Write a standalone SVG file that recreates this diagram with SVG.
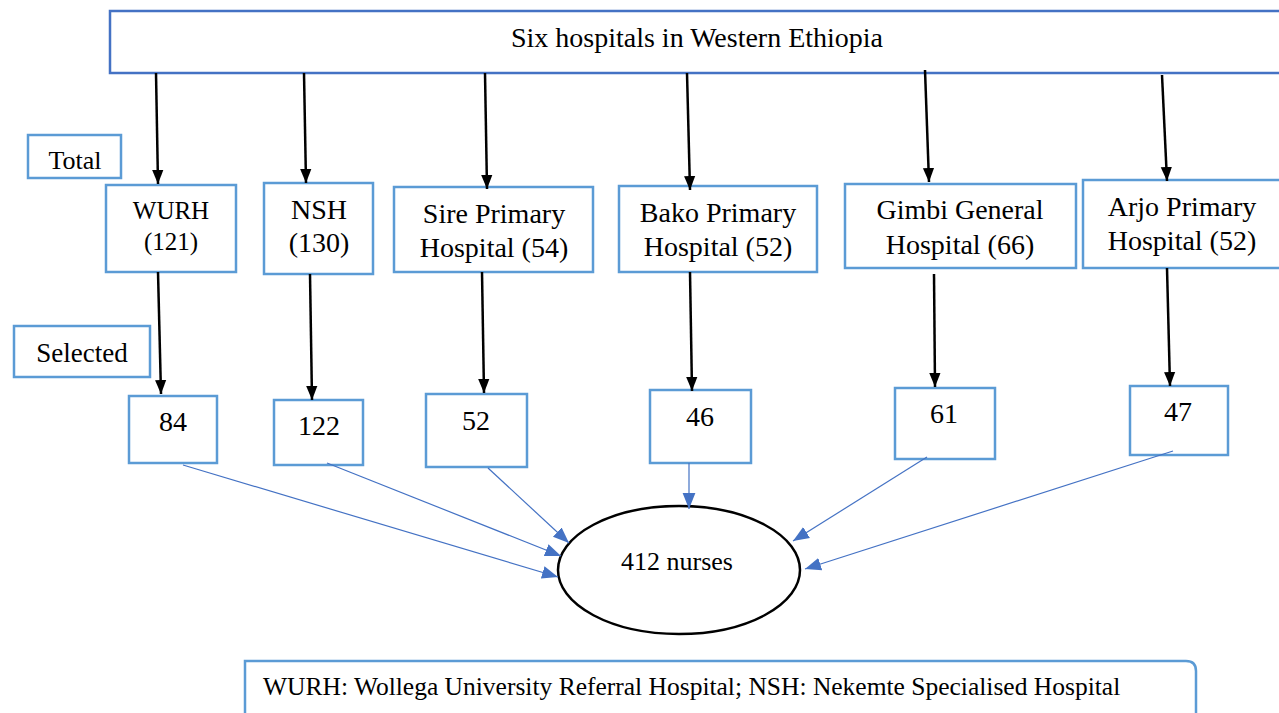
<svg xmlns="http://www.w3.org/2000/svg" width="1279" height="713" viewBox="0 0 1279 713">
<style>
text{font-family:"Liberation Serif","Times New Roman",serif;fill:#000;text-anchor:middle;font-size:28px}
.f25{font-size:25px}
.f26{font-size:26px}
.f27{font-size:27px}
.leg{font-size:25.5px;text-anchor:start}
.top{fill:#fff;stroke:#4472C4;stroke-width:2.5}
.box{fill:#fff;stroke:#5B9BD5;stroke-width:2.5}
.blk{stroke:#000;stroke-width:2.5;fill:none}
.blu{stroke:#4472C4;stroke-width:1.2;fill:none}
</style>
<defs>
<marker id="abk" viewBox="0 0 10 10" refX="10" refY="5" markerWidth="14" markerHeight="14" orient="auto" markerUnits="userSpaceOnUse">
<path d="M0,1 L10,5 L0,9z" fill="#000"/>
</marker>
<marker id="abl" viewBox="0 0 10 10" refX="10" refY="5" markerWidth="16" markerHeight="16" orient="auto" markerUnits="userSpaceOnUse">
<path d="M0,1 L10,5 L0,9z" fill="#4472C4"/>
</marker>
</defs>
<g id="top"><rect class="top" x="110" y="11" width="1180" height="62"/><text x="697" y="47">Six hospitals in Western Ethiopia</text></g>
<g id="total"><rect class="box" x="28" y="135" width="93" height="43"/><text class="f26" x="75" y="169">Total</text></g>
<g id="selected"><rect class="box" x="14" y="326" width="136" height="51"/><text class="f27" x="82" y="362">Selected</text></g>
<g id="wurh"><rect class="box" x="106" y="185" width="130" height="87"/><text class="f25" x="171" y="219">WURH</text><text class="f25" x="171" y="250">(121)</text></g>
<g id="nsh"><rect class="box" x="264" y="183" width="109" height="91"/><text x="319" y="219">NSH</text><text x="319" y="252">(130)</text></g>
<g id="sire"><rect class="box" x="394" y="187" width="199" height="85"/><text x="494" y="223">Sire Primary</text><text x="494" y="257">Hospital (54)</text></g>
<g id="bako"><rect class="box" x="619" y="186" width="198" height="86"/><text x="718" y="222">Bako Primary</text><text x="718" y="256">Hospital (52)</text></g>
<g id="gimbi"><rect class="box" x="845" y="184" width="231" height="84"/><text x="960" y="219">Gimbi General</text><text x="960" y="254">Hospital (66)</text></g>
<g id="arjo"><rect class="box" x="1083" y="180" width="210" height="88"/><text x="1182" y="216">Arjo Primary</text><text x="1182" y="250">Hospital (52)</text></g>
<g id="s84"><rect class="box" x="129" y="396" width="88" height="67"/><text x="173" y="431">84</text></g>
<g id="s122"><rect class="box" x="274" y="400" width="89" height="65"/><text x="319" y="435">122</text></g>
<g id="s52"><rect class="box" x="426" y="394" width="101" height="73"/><text x="476" y="430">52</text></g>
<g id="s46"><rect class="box" x="650" y="390" width="101" height="73"/><text x="700" y="426">46</text></g>
<g id="s61"><rect class="box" x="895" y="388" width="100" height="71"/><text x="944" y="423">61</text></g>
<g id="s47"><rect class="box" x="1130" y="386" width="98" height="69"/><text x="1178" y="421">47</text></g>
<g id="nurses"><ellipse cx="679" cy="570" rx="121" ry="64" fill="#fff" stroke="#000" stroke-width="2.5"/><text class="f26" x="677" y="570">412 nurses</text></g>
<g id="legend"><path d="M245,713 V661 H1186 Q1196,661 1196,671 V713" fill="#fff" stroke="#5B9BD5" stroke-width="2.5"/><text class="leg" x="263" y="695">WURH: Wollega University Referral Hospital; NSH: Nekemte Specialised Hospital</text></g>
<g id="connectors">
<line class="blk" x1="156" y1="73" x2="158" y2="184" marker-end="url(#abk)"/>
<line class="blk" x1="304" y1="73" x2="306" y2="183" marker-end="url(#abk)"/>
<line class="blk" x1="485" y1="73" x2="487" y2="189" marker-end="url(#abk)"/>
<line class="blk" x1="687" y1="73" x2="690" y2="190" marker-end="url(#abk)"/>
<line class="blk" x1="925" y1="70" x2="929" y2="182" marker-end="url(#abk)"/>
<line class="blk" x1="1162" y1="75" x2="1167" y2="181" marker-end="url(#abk)"/>
<line class="blk" x1="158" y1="272" x2="161" y2="394" marker-end="url(#abk)"/>
<line class="blk" x1="310" y1="274" x2="312" y2="400" marker-end="url(#abk)"/>
<line class="blk" x1="482" y1="272" x2="484" y2="393" marker-end="url(#abk)"/>
<line class="blk" x1="690" y1="272" x2="692" y2="391" marker-end="url(#abk)"/>
<line class="blk" x1="934" y1="274" x2="935" y2="387" marker-end="url(#abk)"/>
<line class="blk" x1="1167" y1="268" x2="1170" y2="386" marker-end="url(#abk)"/>
<line class="blu" x1="183" y1="465" x2="558" y2="577" marker-end="url(#abl)"/>
<line class="blu" x1="327" y1="463" x2="561" y2="556" marker-end="url(#abl)"/>
<line class="blu" x1="488" y1="468" x2="569" y2="543" marker-end="url(#abl)"/>
<line class="blu" x1="689" y1="463" x2="689" y2="509" marker-end="url(#abl)"/>
<line class="blu" x1="927" y1="457" x2="793" y2="541" marker-end="url(#abl)"/>
<line class="blu" x1="1173" y1="451" x2="805" y2="569" marker-end="url(#abl)"/>
</g>
</svg>
